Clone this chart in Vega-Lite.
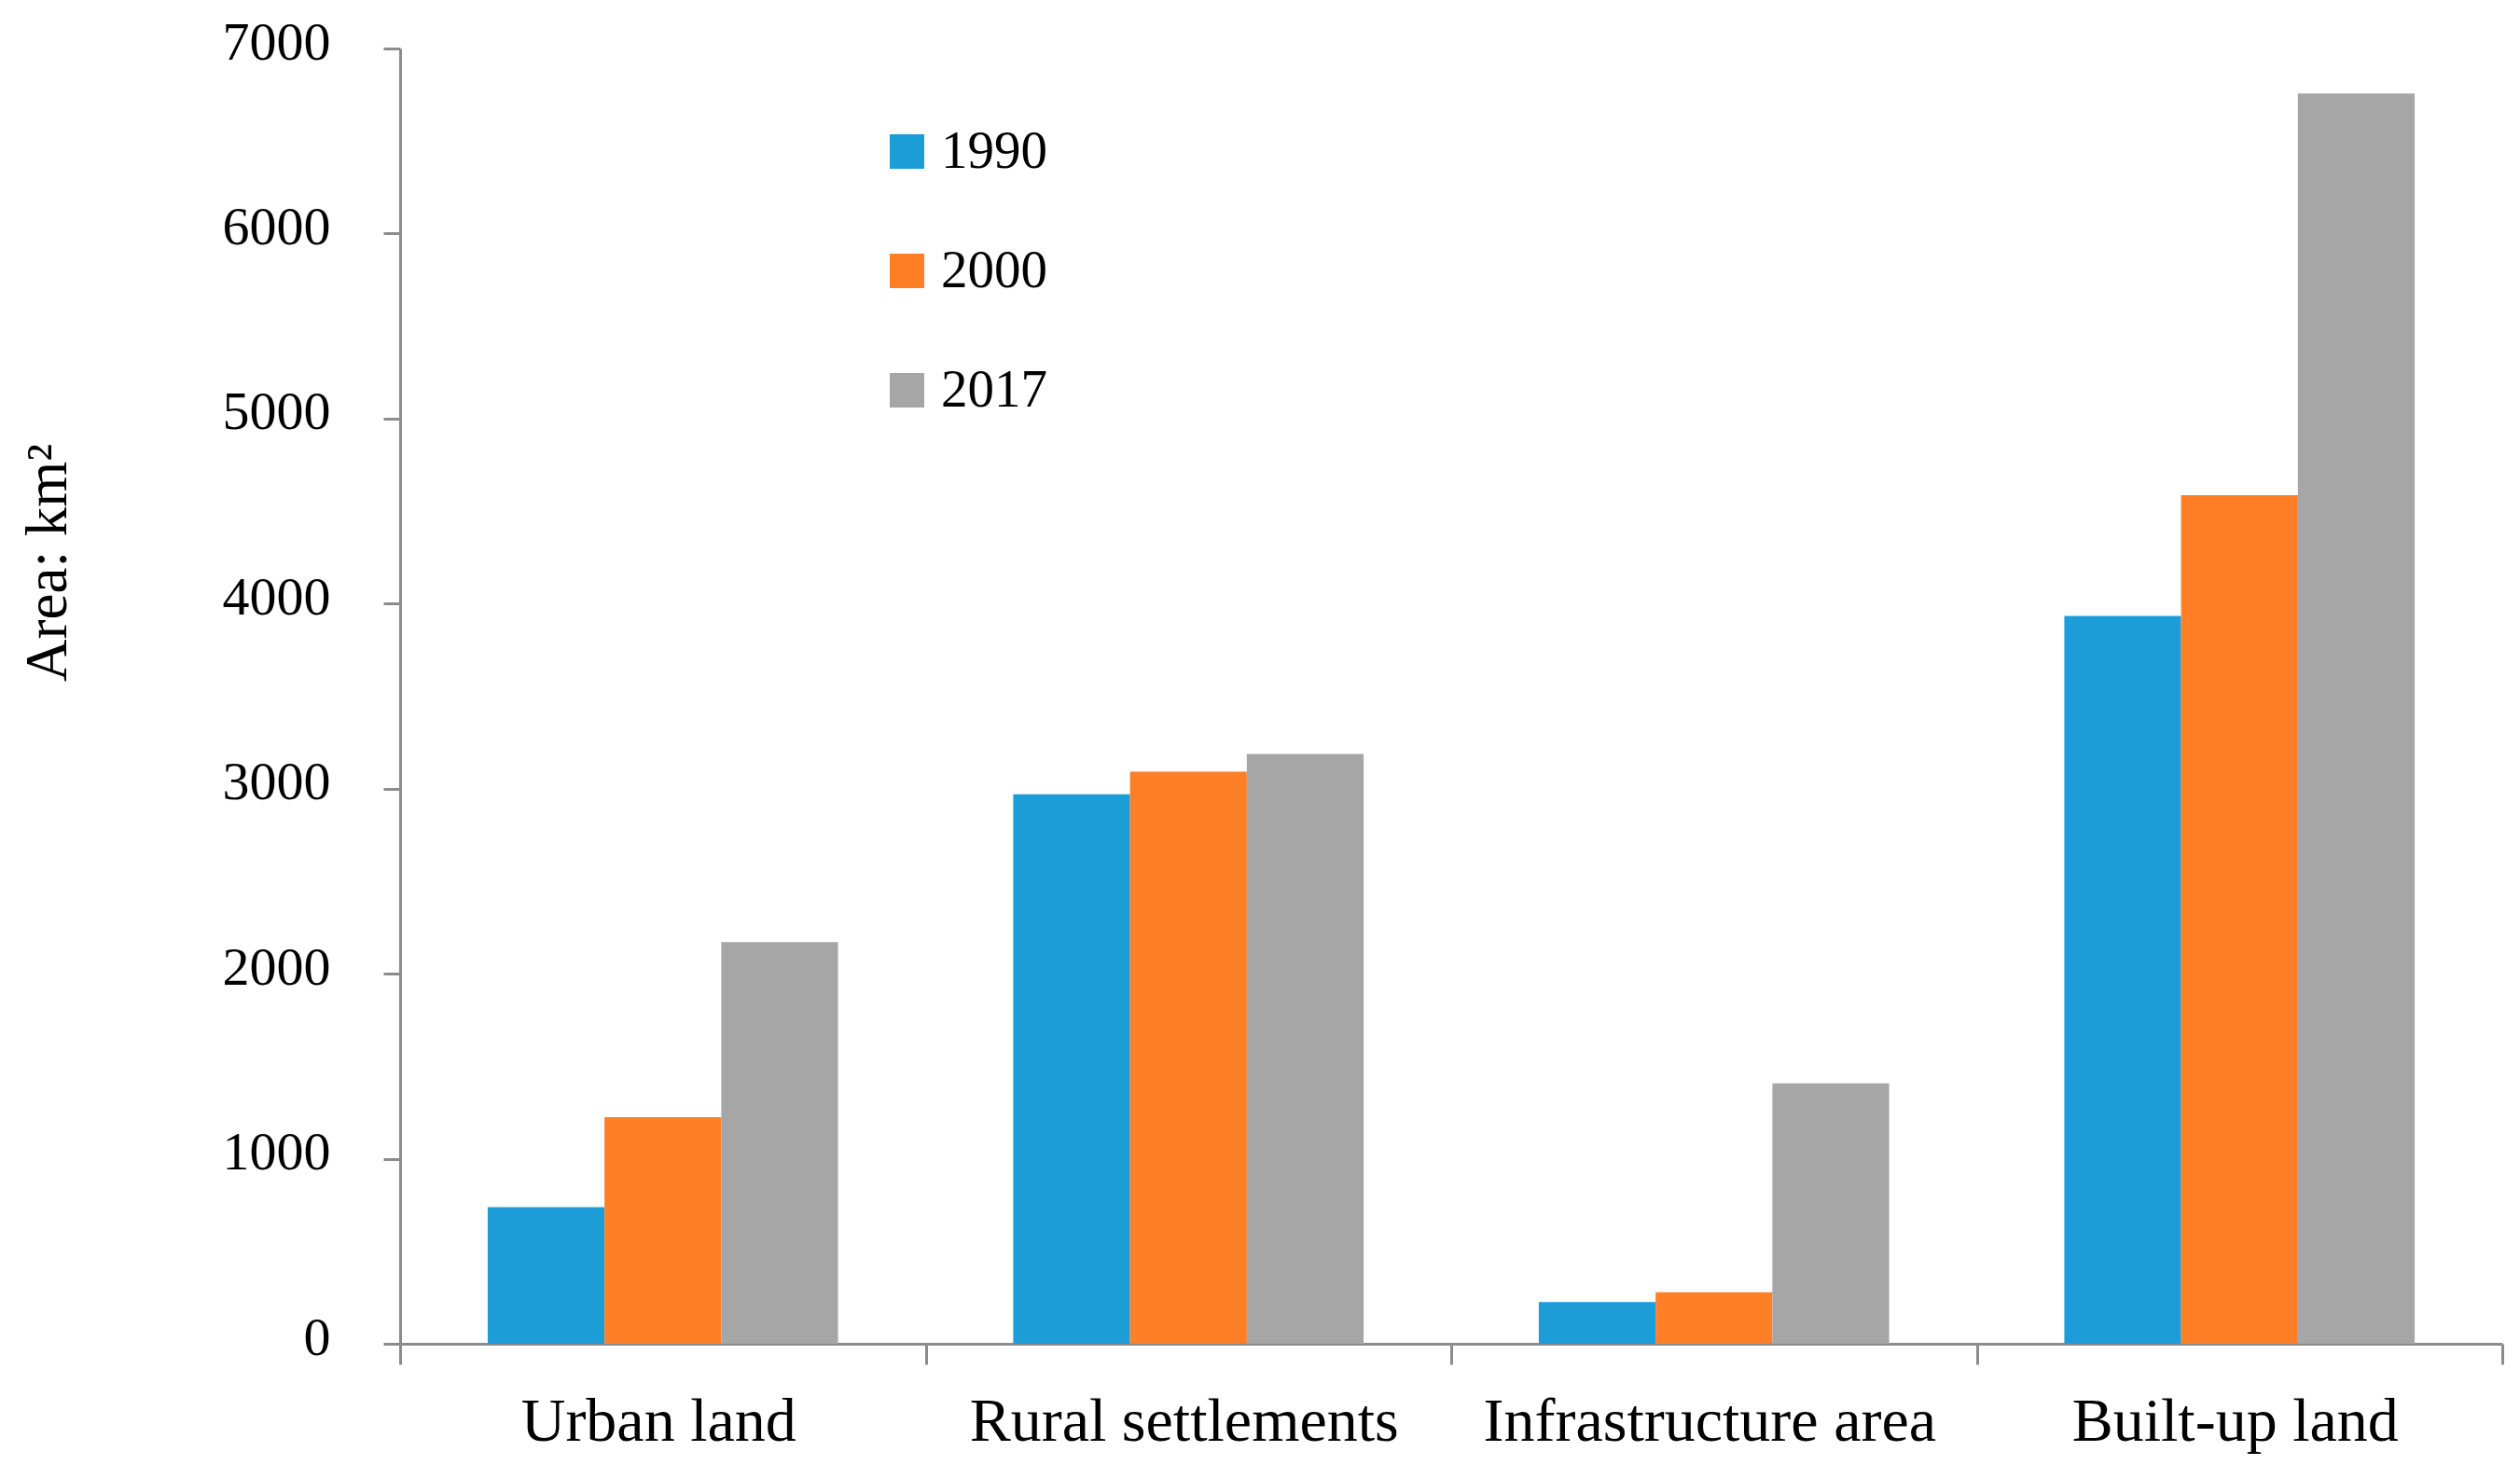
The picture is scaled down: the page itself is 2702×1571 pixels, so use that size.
{
  "$schema": "https://vega.github.io/schema/vega-lite/v6.json",
  "width": 2254,
  "height": 1389,
  "autosize": {"type": "none"},
  "padding": {"left": 429, "top": 52, "right": 19, "bottom": 130},
  "background": "white",
  "config": {
    "view": {"stroke": null},
    "axis": {
      "labelFont": "Liberation Serif",
      "titleFont": "Liberation Serif",
      "labelColor": "#000000",
      "titleColor": "#000000",
      "domainColor": "#8C8C8C",
      "tickColor": "#8C8C8C",
      "domainWidth": 3,
      "tickWidth": 3,
      "grid": false,
      "titleFontWeight": "normal"
    },
    "legend": {
      "padding": 0,
      "labelFont": "Liberation Serif",
      "labelColor": "#000000"
    }
  },
  "data": {
    "values": [
      {"category": "Urban land", "year": "1990", "area": 738},
      {"category": "Urban land", "year": "2000", "area": 1225},
      {"category": "Urban land", "year": "2017", "area": 2171},
      {"category": "Rural settlements", "year": "1990", "area": 2970},
      {"category": "Rural settlements", "year": "2000", "area": 3092},
      {"category": "Rural settlements", "year": "2017", "area": 3187},
      {"category": "Infrastructure area", "year": "1990", "area": 226},
      {"category": "Infrastructure area", "year": "2000", "area": 278},
      {"category": "Infrastructure area", "year": "2017", "area": 1407},
      {"category": "Built-up land", "year": "1990", "area": 3934},
      {"category": "Built-up land", "year": "2000", "area": 4586},
      {"category": "Built-up land", "year": "2017", "area": 6757}
    ]
  },
  "mark": {"type": "bar"},
  "encoding": {
    "x": {
      "field": "category",
      "type": "nominal",
      "sort": ["Urban land", "Rural settlements", "Infrastructure area", "Built-up land"],
      "scale": {"paddingInner": 0, "paddingOuter": 0},
      "axis": {
        "title": null,
        "labelAngle": 0,
        "labelFontSize": 66,
        "labelLimit": 0,
        "labelBaseline": "alphabetic",
        "labelPadding": 81,
        "labelOffset": -5,
        "tickSize": 22,
        "tickBand": "extent"
      }
    },
    "xOffset": {
      "field": "year",
      "type": "nominal",
      "scale": {"paddingInner": 0, "paddingOuter": 0.75}
    },
    "y": {
      "field": "area",
      "type": "quantitative",
      "scale": {"domain": [0, 7000], "nice": false},
      "axis": {
        "title": "Area: km²",
        "titleFontSize": 63,
        "titleX": -359,
        "titleY": 551,
        "titleAlign": "center",
        "titleBaseline": "alphabetic",
        "titleAngle": -90,
        "values": [0, 1000, 2000, 3000, 4000, 5000, 6000, 7000],
        "format": "d",
        "labelFontSize": 58,
        "labelPadding": 57,
        "labelOffset": -6,
        "tickSize": 18
      }
    },
    "color": {
      "field": "year",
      "type": "nominal",
      "scale": {"domain": ["1990", "2000", "2017"], "range": ["#1D9DD8", "#FF7F27", "#A6A6A6"]},
      "legend": {
        "orient": "none",
        "legendX": 515,
        "legendY": 82,
        "title": null,
        "symbolType": "square",
        "symbolSize": 1369,
        "symbolStrokeWidth": 0,
        "labelFontSize": 57,
        "labelOffset": 8,
        "rowPadding": 70
      }
    }
  }
}
